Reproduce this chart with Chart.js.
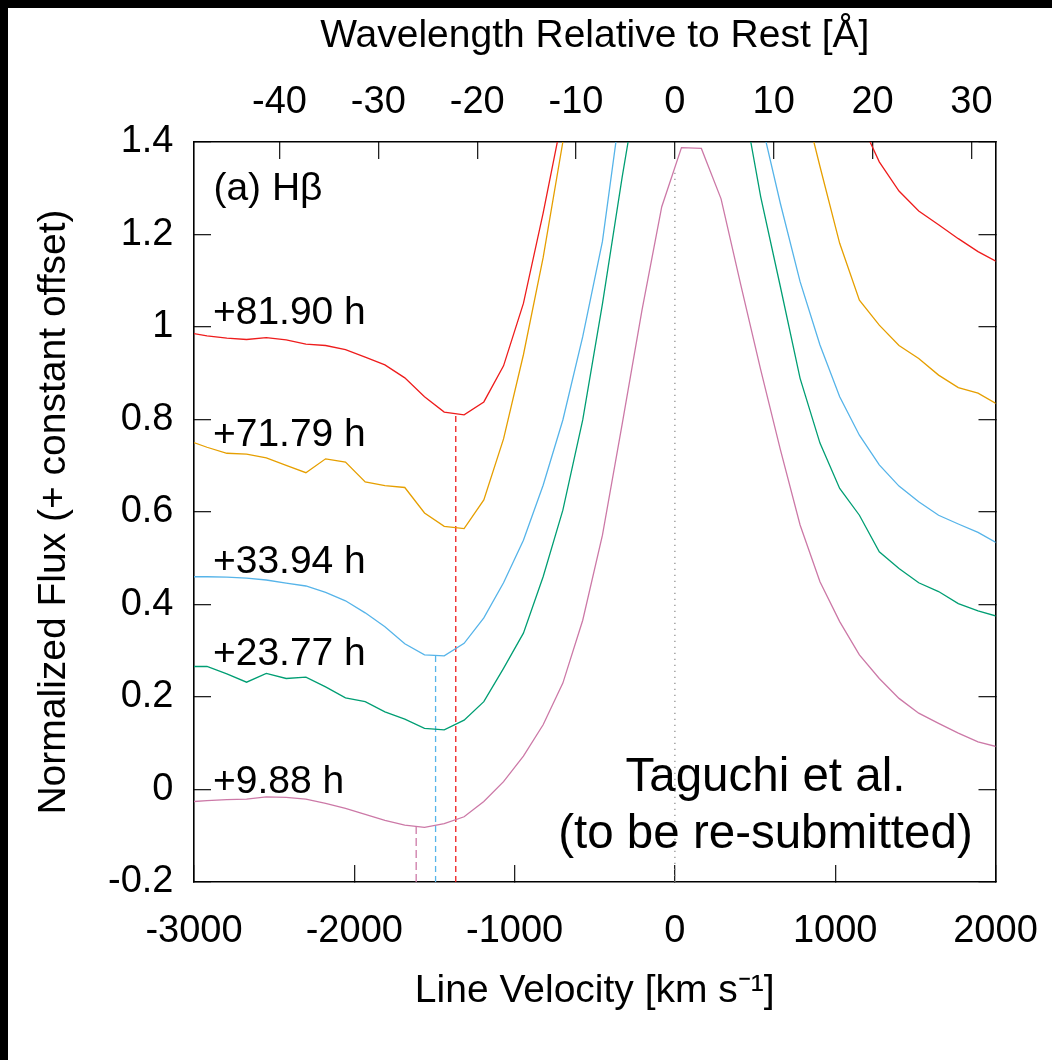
<!DOCTYPE html>
<html><head><meta charset="utf-8">
<script src="https://cdn.jsdelivr.net/npm/chart.js@4.4.1/dist/chart.umd.min.js"></script>
<style>
html,body{margin:0;padding:0;background:#000;width:1052px;height:1060px;overflow:hidden}
#wrap{position:absolute;left:8px;top:8px;width:1044px;height:1052px;background:#fff}
canvas{display:block}
</style></head><body>
<div id="wrap"><canvas id="c" width="1044" height="1052"></canvas></div>
<script>
// Line velocity grid [km/s]
const velocity = [-3042,-2919,-2795,-2672,-2549,-2425,-2302,-2179,-2055,-1932,-1809,-1685,-1562,-1439,-1315,-1192,-1069,-945,-822,-699,-575,-452,-329,-205,-82,41,165,288,411,535,658,781,905,1028,1151,1275,1398,1521,1645,1768,1891,2015];

// Normalized flux (+ constant offset) for each epoch
const flux_81_90h = [0.988,0.981,0.976,0.973,0.977,0.972,0.963,0.960,0.951,0.935,0.918,0.890,0.849,0.816,0.810,0.838,0.916,1.051,1.246,1.46,1.70,1.95,2.20,2.40,2.55,2.60,2.60,2.55,2.40,2.20,2.00,1.80,1.62,1.52,1.45,1.357,1.294,1.251,1.221,1.191,1.163,1.140];
const flux_71_79h = [0.755,0.740,0.727,0.725,0.717,0.701,0.685,0.715,0.708,0.665,0.657,0.653,0.598,0.569,0.564,0.626,0.758,0.94,1.15,1.40,1.65,1.90,2.10,2.25,2.35,2.38,2.35,2.25,2.10,1.90,1.72,1.52,1.347,1.181,1.058,1.004,0.960,0.932,0.896,0.869,0.857,0.832];
const flux_33_94h = [0.460,0.460,0.459,0.457,0.453,0.446,0.440,0.426,0.408,0.382,0.352,0.315,0.291,0.289,0.316,0.371,0.447,0.539,0.658,0.799,0.979,1.185,1.50,1.75,1.90,1.95,1.92,1.80,1.62,1.45,1.267,1.098,0.961,0.849,0.766,0.702,0.656,0.622,0.593,0.574,0.556,0.532];
const flux_23_77h = [0.266,0.266,0.250,0.232,0.251,0.240,0.243,0.222,0.198,0.190,0.168,0.152,0.132,0.129,0.150,0.190,0.262,0.338,0.460,0.604,0.799,1.05,1.324,1.58,1.75,1.82,1.80,1.70,1.52,1.282,1.087,0.889,0.749,0.651,0.593,0.514,0.478,0.447,0.428,0.402,0.386,0.374];
const flux_9_88h = [-0.027,-0.024,-0.022,-0.021,-0.016,-0.017,-0.021,-0.030,-0.041,-0.054,-0.067,-0.077,-0.082,-0.074,-0.059,-0.026,0.017,0.072,0.140,0.230,0.366,0.550,0.790,1.037,1.260,1.388,1.386,1.277,1.091,0.908,0.735,0.572,0.449,0.363,0.291,0.240,0.197,0.165,0.143,0.122,0.103,0.092];

const seriesLabels = ['+81.90 h','+71.79 h','+33.94 h','+23.77 h','+9.88 h'];
const seriesColors = ['#ee1c1c','#e69f00','#56b4e9','#009e73','#cc79a7'];

// Absorption minimum markers (pink, blue, red)
const minVelocity = [-1614,-1493,-1367];
const minFlux = [-0.080,0.290,0.812];
const minColors = ['#cc79a7','#56b4e9','#ee1c1c'];

// Tick values and labels
const xTicks = [-3000,-2000,-1000,0,1000,2000];
const xTickLabels = ['-3000','-2000','-1000','0','1000','2000'];
const x2Ticks = [-40,-30,-20,-10,0,10,20,30];
const x2TickLabels = ['-40','-30','-20','-10','0','10','20','30'];
const yTicks = [-0.2,0,0.2,0.4,0.6,0.8,1.0,1.2,1.4];
const yTickLabels = ['-0.2','0','0.2','0.4','0.6','0.8','1','1.2','1.4'];

const restWavelength = 4861.33; // H-beta [A]
const cLight = 299792.458;      // km/s
const vMin = -3000, vMax = 2000;
const x2Min = vMin / cLight * restWavelength;
const x2Max = vMax / cLight * restWavelength;

const FONT = '"Liberation Sans", Arial, Helvetica, sans-serif';
Chart.defaults.font.family = FONT;
Chart.defaults.color = '#000';

const fluxSeries = [flux_81_90h, flux_71_79h, flux_33_94h, flux_23_77h, flux_9_88h];

const datasets = [];
fluxSeries.forEach((f, s) => {
  datasets.push({
    label: seriesLabels[s],
    data: velocity.map((v, i) => ({x: v, y: f[i]})),
    borderColor: seriesColors[s], borderWidth: 1.3,
    pointRadius: 0, tension: 0, fill: false, clip: 0,
    xAxisID: 'x', yAxisID: 'y'
  });
});
minVelocity.forEach((v, i) => {
  datasets.push({
    label: 'min' + i,
    data: [{x: v, y: -0.2}, {x: v, y: minFlux[i]}],
    borderColor: minColors[i], borderWidth: 1.3, borderDash: i === 0 ? [8, 4] : [6, 4],
    pointRadius: 0, fill: false, clip: 0, xAxisID: 'x', yAxisID: 'y'
  });
});
datasets.push({
  label: 'rest',
  data: [{x: 0, y: -0.2}, {x: 0, y: 1.335}],
  borderColor: '#888', borderWidth: 1.2, borderDash: [1.3, 4.7],
  pointRadius: 0, fill: false, clip: 0, xAxisID: 'x', yAxisID: 'y'
});

const gridOpts = {display: true, drawOnChartArea: false, drawTicks: true, tickLength: -17, color: '#222', lineWidth: 1.3};
const borderOpts = {display: true, color: '#000', width: 1.6};

const annotations = {
  id: 'annotations',
  afterDatasetsDraw(chart, args, opts) {
    const {ctx, scales: {x, y}} = chart;
    ctx.save();
    ctx.fillStyle = '#000';
    ctx.textBaseline = 'alphabetic';
    opts.items.forEach(it => {
      ctx.font = it.size + 'px ' + FONT;
      ctx.textAlign = it.align || 'left';
      ctx.fillText(it.text, x.getPixelForValue(it.x), y.getPixelForValue(it.y));
    });
    ctx.restore();
  }
};

const fixH = h => s => { s.height = h; s.paddingLeft = 0; s.paddingRight = 0; };
const fixW = w => s => { s.width = w; s.paddingTop = 0; s.paddingBottom = 0; };

new Chart(document.getElementById('c'), {
  type: 'line',
  data: {datasets},
  plugins: [annotations],
  options: {
    responsive: false, animation: false, devicePixelRatio: 1,
    layout: {padding: 0},
    plugins: {
      legend: {display: false}, tooltip: {enabled: false},
      annotations: {
        items: [
          {text: '(a) Hβ', x: -2879, y: 1.275, size: 39},
          {text: seriesLabels[0], x: -2882, y: 1.006, size: 39},
          {text: seriesLabels[1], x: -2882, y: 0.743, size: 39},
          {text: seriesLabels[2], x: -2882, y: 0.469, size: 39},
          {text: seriesLabels[3], x: -2882, y: 0.269, size: 39},
          {text: seriesLabels[4], x: -2882, y: -0.007, size: 39},
          {text: 'Taguchi et al.', x: 565, y: -0.003, size: 47.5, align: 'center'},
          {text: '(to be re-submitted)', x: 565, y: -0.127, size: 47.5, align: 'center'}
        ]
      }
    },
    scales: {
      x: {
        type: 'linear', position: 'bottom', min: vMin, max: vMax,
        afterBuildTicks: s => { s.ticks = xTicks.map(v => ({value: v})); },
        afterFit: fixH(178),
        grid: gridOpts, border: borderOpts,
        ticks: {padding: 43.5, font: {size: 38}, color: '#000', maxRotation: 0, autoSkip: false,
                callback: (v, i) => xTickLabels[i]},
        title: {display: true, text: 'Line Velocity [km s⁻¹]', font: {size: 39}, color: '#000', padding: {top: 0, bottom: 45}}
      },
      x2: {
        type: 'linear', position: 'top', min: x2Min, max: x2Max,
        afterBuildTicks: s => { s.ticks = x2Ticks.map(v => ({value: v})); },
        afterFit: fixH(134),
        grid: gridOpts, border: borderOpts,
        ticks: {padding: 33.7, font: {size: 38}, color: '#000', maxRotation: 0, autoSkip: false,
                callback: (v, i) => x2TickLabels[i]},
        title: {display: true, text: 'Wavelength Relative to Rest [Å]', font: {size: 39}, color: '#000', padding: {top: 5, bottom: 0}}
      },
      y: {
        type: 'linear', position: 'left', min: -0.2, max: 1.4,
        afterBuildTicks: s => { s.ticks = yTicks.map(v => ({value: v})); },
        afterFit: fixW(186),
        grid: gridOpts, border: borderOpts,
        ticks: {padding: 37.5, font: {size: 38}, color: '#000', autoSkip: false,
                callback: (v, i) => yTickLabels[i]},
        title: {display: true, text: 'Normalized Flux (+ constant offset)', font: {size: 39}, color: '#000', padding: {top: 22.6, bottom: 0}}
      },
      y2: {
        type: 'linear', position: 'right', min: -0.2, max: 1.4,
        afterBuildTicks: s => { s.ticks = yTicks.map(v => ({value: v})); },
        afterFit: fixW(56.5),
        grid: gridOpts, border: borderOpts,
        ticks: {display: false}
      }
    }
  }
});
</script>
</body></html>
